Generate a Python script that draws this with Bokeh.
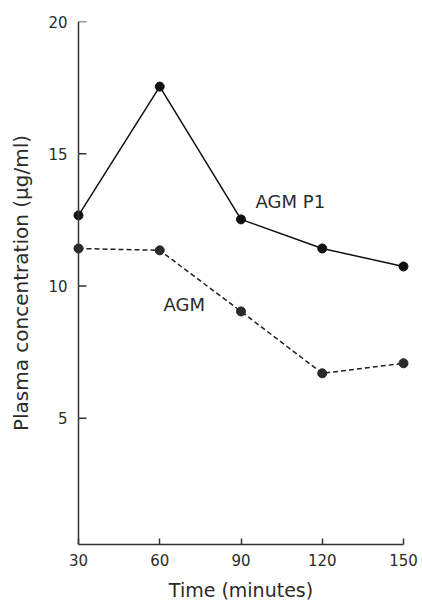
from bokeh.plotting import figure
from bokeh.models import Range1d, FixedTicker, Label, Span
from bokeh.embed import file_html
from bokeh.resources import INLINE

# Data
time_min = [30, 60, 90, 120, 150]
agm_p1 = [12.67, 17.54, 12.52, 11.42, 10.74]
agm = [11.42, 11.35, 9.04, 6.70, 7.08]
x_ticks = [30, 60, 90, 120, 150]
y_ticks = [5, 10, 15, 20]

FONT = "DejaVu Sans"
TXT = "#2b2b2b"
AX = "#333333"

X0, X1 = x_ticks[0], x_ticks[-1]
PAD = 2.954  # small margin so end markers are not cut by the frame

p = figure(width=422, height=603, output_backend="svg", toolbar_location=None,
           x_range=Range1d(X0 - PAD, X1 + PAD), y_range=Range1d(0.23, 20),
           min_border_left=70, min_border_right=11, min_border_top=21, min_border_bottom=59)
p.grid.visible = False
p.outline_line_color = None
p.background_fill_color = "white"
p.border_fill_color = "white"

# x axis
xa = p.xaxis[0]
xa.ticker = FixedTicker(ticks=x_ticks)
xa.bounds = (X0, X1)
xa.major_tick_in = 6
xa.major_tick_out = 0
xa.minor_tick_line_color = None
xa.axis_line_width = 1.5
xa.axis_line_color = AX
xa.major_tick_line_width = 1.5
xa.major_tick_line_color = AX
xa.major_label_text_font = FONT
xa.major_label_text_font_size = "15px"
xa.major_label_text_color = TXT
xa.major_label_standoff = 9
xa.axis_label = "Time (minutes)"
xa.axis_label_text_font = FONT
xa.axis_label_text_font_size = "19px"
xa.axis_label_text_font_style = "normal"
xa.axis_label_text_color = TXT
xa.axis_label_standoff = 10

# y axis: labels from the axis, line and ticks drawn at x = 30
ya = p.yaxis[0]
ya.ticker = FixedTicker(ticks=y_ticks)
ya.major_tick_in = 0
ya.major_tick_out = 0
ya.axis_line_color = None
ya.major_tick_line_color = None
ya.minor_tick_line_color = None
ya.major_label_text_font = FONT
ya.major_label_text_font_size = "15px"
ya.major_label_text_color = TXT
ya.major_label_standoff = 3
ya.axis_label = "Plasma concentration (µg/ml)"
ya.axis_label_text_font = FONT
ya.axis_label_text_font_size = "20px"
ya.axis_label_text_font_style = "normal"
ya.axis_label_text_color = TXT
ya.axis_label_standoff = 12

p.add_layout(Span(location=X0, dimension="height", line_color=AX, line_width=1.5))
p.ray(x=[X0] * len(y_ticks), y=y_ticks, length=8, length_units="screen", angle=0,
      line_color=AX, line_width=1.5)

# series
p.line(time_min, agm_p1, line_color="#111111", line_width=1.5)
p.scatter(time_min, agm_p1, size=9, fill_color="#111111", line_color="#111111")
p.line(time_min, agm, line_color="#222222", line_width=1.5, line_dash="5 3")
p.scatter(time_min, agm, size=9, fill_color="#2a2a2a", line_color="#222222")

p.add_layout(Label(x=95.4, y=13.2, text="AGM P1", text_font=FONT, text_font_size="18px",
                   text_color=TXT, text_baseline="middle", text_align="left"))
p.add_layout(Label(x=61.4, y=9.31, text="AGM", text_font=FONT, text_font_size="18px",
                   text_color=TXT, text_baseline="middle", text_align="left"))

open("out.html", "w").write(file_html(p, INLINE))
